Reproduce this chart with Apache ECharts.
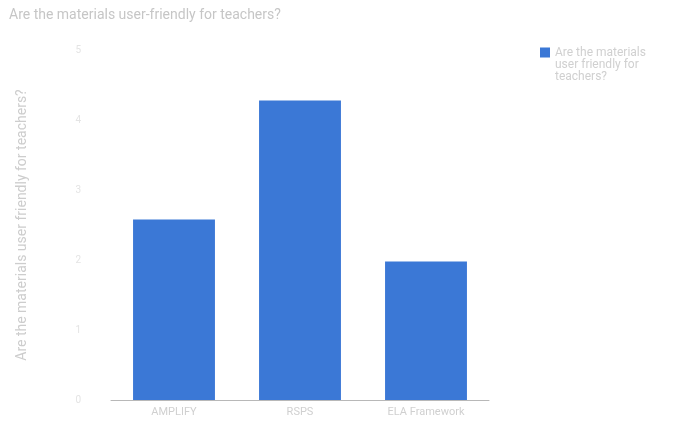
<!DOCTYPE html>
<html>
<head>
<meta charset="utf-8">
<script src="https://cdn.jsdelivr.net/npm/echarts@6/dist/echarts.min.js"></script>
<style>html,body{margin:0;padding:0;background:#fff;}#c{width:691px;height:424px;}</style>
</head>
<body>
<div id="c"></div>
<script>
const titleText = "Are the materials user-friendly for teachers?";
const seriesName = "Are the materials user friendly for teachers?";
const yAxisName = "Are the materials user friendly for teachers?";
const categories = ["AMPLIFY", "RSPS", "ELA Framework"];
const values = [2.58, 4.28, 1.98];
const yTicks = [0, 1, 2, 3, 4, 5];

const chart = echarts.init(document.getElementById('c'));
chart.setOption({
  animation: false,
  backgroundColor: '#ffffff',
  title: {
    text: titleText, left: 4, top: 3,
    textStyle: { fontFamily: 'Roboto', fontSize: 14, fontWeight: 'normal', color: '#c6c6c6' }
  },
  legend: {
    orient: 'vertical', left: 535, top: 42,
    itemWidth: 10, itemHeight: 35, itemGap: 6,
    icon: 'path://M0,0L10,0L10,10L0,10Z M0,34.99L0.01,35L0,35Z',
    textStyle: { fontFamily: 'Roboto', fontSize: 12, color: '#d0d0d0', lineHeight: 12 },
    formatter: () => 'Are the materials\nuser friendly for\nteachers?'
  },
  grid: { left: 111, right: 202, top: 50, bottom: 24 },
  xAxis: {
    type: 'category', data: categories,
    axisLine: { lineStyle: { color: '#b8b8b8' } },
    axisTick: { show: false },
    axisLabel: { fontFamily: 'Roboto', fontSize: 11, color: '#d0d0d0', margin: 7 }
  },
  yAxis: {
    type: 'value', min: yTicks[0], max: yTicks[yTicks.length - 1], interval: 1,
    name: yAxisName, nameLocation: 'middle', nameGap: 82, nameRotate: 90,
    nameTextStyle: { fontFamily: 'Roboto', fontSize: 14, color: '#cdcdcd' },
    axisLine: { show: false }, axisTick: { show: false },
    splitLine: { show: false },
    axisLabel: { fontFamily: 'Roboto', fontSize: 10, color: '#e4e4e4', margin: 30 }
  },
  series: [{
    name: seriesName, type: 'bar', data: values,
    barWidth: '65%',
    itemStyle: { color: '#3b78d6' }
  }]
});
</script>
</body>
</html>
